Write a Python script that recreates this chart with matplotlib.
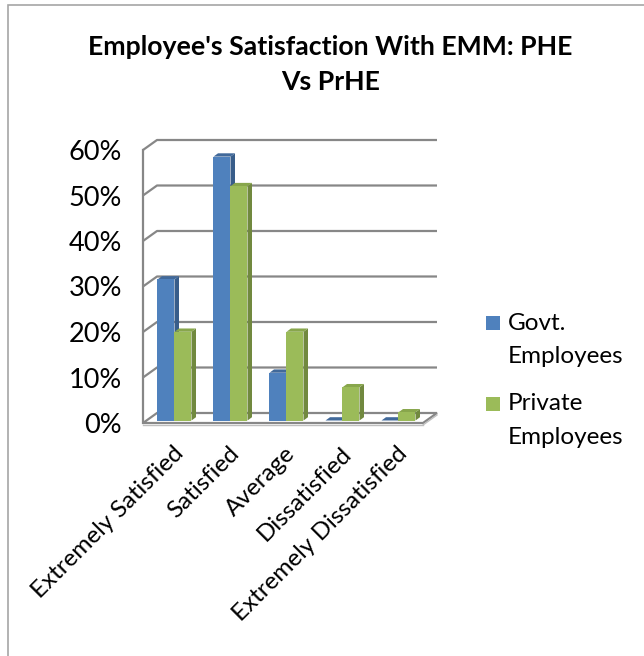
import numpy as np
import matplotlib
matplotlib.use("Agg")
import matplotlib.pyplot as plt
from matplotlib.patches import Polygon, Rectangle
from matplotlib.ticker import PercentFormatter

plt.rcParams['font.family'] = ['Lato', 'DejaVu Sans']

categories = ['Extremely Satisfied', 'Satisfied', 'Average',
              'Dissatisfied', 'Extremely Dissatisfied']
govt = [0.31, 0.58, 0.105, 0.0, 0.0]
private = [0.195, 0.515, 0.195, 0.073, 0.018]
series_names = ['Govt. Employees', 'Private Employees']
yticks = [0.0, 0.1, 0.2, 0.3, 0.4, 0.5, 0.6]

# face, top, side colours for each series
blue = ('#4F81BD', '#41699A', '#385D8A')
green = ('#9BBB59', '#88A64C', '#71893F')
grid_c = '#878787'

W, H = 644, 656
fig = plt.figure(figsize=(W / 100, H / 100), dpi=100)

# frame around the chart area
fig.patches.append(Rectangle((7.5 / W, -0.1), 1.2, (H - 5) / H + 0.1,
                             transform=fig.transFigure, fill=False,
                             edgecolor='#A6A6A6', lw=1.2))

fig.text(330 / W, 1 - 47 / H, "Employee's Satisfaction With EMM: PHE",
         ha='center', va='center', fontsize=19.2, fontweight='bold')
fig.text(331 / W, 1 - 82 / H, 'Vs PrHE',
         ha='center', va='center', fontsize=19.2, fontweight='bold')

# plot box in pixels: front plane x -> 143 + (x + 0.5) * 56, y -> 423 - v * 455
px_x, px_y = 56.0, 455.0
left_px, right_px, top_px, bot_px = 100, 460, 120, 440
ax = fig.add_axes([left_px / W, 1 - bot_px / H,
                   (right_px - left_px) / W, (bot_px - top_px) / H])
ax.set_xlim((left_px - 143) / px_x - 0.5, (right_px - 143) / px_x - 0.5)
ax.set_ylim((423 - bot_px) / px_y, (423 - top_px) / px_y)
ax.set_facecolor('none')
for s in ax.spines.values():
    s.set_visible(False)

# oblique depth of the walls and of the bars, in data units
wdx, wdy = 14 / px_x, 10 / px_y
bdx, bdy = 4.5 / px_x, 3.3 / px_y
x0, x1 = -0.5, len(categories) - 0.5

# back wall gridlines and left wall
for v in yticks[1:]:
    ax.plot([x0, x0 + wdx, x1 + wdx], [v, v + wdy, v + wdy],
            color=grid_c, lw=1.6, solid_capstyle='butt', zorder=1)
ax.plot([x0, x0], [0, yticks[-1]], color=grid_c, lw=1.6, zorder=1)

# floor
floor = Polygon([(x0, 0), (x1, 0), (x1 + wdx, wdy), (x0 + wdx, wdy)],
                closed=True, facecolor='white', edgecolor=grid_c, lw=1.6,
                zorder=2)
ax.add_patch(floor)
ax.plot([x0, x1], [-2 / px_y, -2 / px_y], color='#BFBFBF', lw=1.0, zorder=2)
ax.plot([x1, x1 + wdx], [-2 / px_y, wdy - 2 / px_y], color='#BFBFBF', lw=1.0, zorder=2)


def bar3d(xl, width, val, cols, z):
    # bars stand a little behind the floor's front edge
    ox, oy = 3.5 / px_x, 2.5 / px_y
    xl += ox
    xr = xl + width
    yb, yt = oy, oy + val
    ax.add_patch(Polygon([(xr, yb), (xr + bdx, yb + bdy), (xr + bdx, yt + bdy),
                          (xr, yt)], closed=True, facecolor=cols[2],
                         edgecolor='none', zorder=z))
    ax.add_patch(Polygon([(xl, yt), (xr, yt), (xr + bdx, yt + bdy),
                          (xl + bdx, yt + bdy)], closed=True, facecolor=cols[1],
                         edgecolor='none', zorder=z))
    ax.add_patch(Rectangle((xl, yb), width, val, facecolor=cols[0],
                           edgecolor='none', zorder=z))


bw = 17 / px_x
for i in range(len(categories)):
    bar3d(i - bw, bw, govt[i], blue, 3 + i * 2)
    bar3d(i, bw, private[i], green, 4 + i * 2)

fs = 17.5
ax.set_yticks(yticks)
ax.yaxis.set_major_formatter(PercentFormatter(1.0, decimals=0))
ax.spines['left'].set_position(('data', x0))
ax.tick_params(axis='y', length=0, pad=15, labelsize=19.5)

ax.set_xticks(np.arange(len(categories)) + 0.03)
ax.set_xticklabels(categories, rotation=45, ha='right',
                   rotation_mode='anchor', fontsize=fs)
ax.tick_params(axis='x', length=0, pad=2)

# legend: colour square beside a two-line label
for k, (name, cols) in enumerate(zip(series_names, [blue, green])):
    y_top = 316 + k * 81
    fig.patches.append(Rectangle((486 / W, 1 - (y_top + 14) / H), 14 / W, 14 / H,
                                 transform=fig.transFigure,
                                 facecolor=cols[0], edgecolor='none'))
    for j, word in enumerate(name.split(' ')):
        fig.text(508 / W, 1 - (y_top + 7 + j * 33.5) / H, word,
                 ha='left', va='center', fontsize=fs)

fig.savefig('out.png', dpi=100)
